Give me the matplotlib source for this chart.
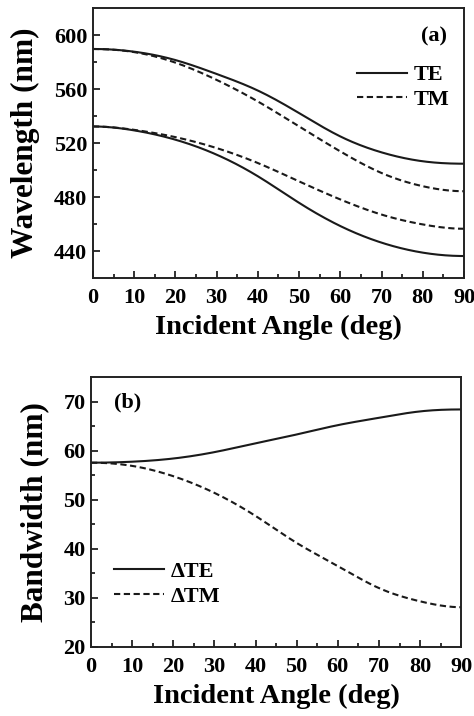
import matplotlib
matplotlib.use("Agg")
import matplotlib.pyplot as plt
import numpy as np

plt.rcParams['font.family'] = ['Liberation Serif', 'DejaVu Serif']
plt.rcParams['font.weight'] = 'bold'

angle = [0, 10, 20, 30, 40, 50, 60, 70, 80, 90]
te_upper = [589.7, 587.7, 581.5, 571.2, 558.9, 542.2, 524.9, 513.1, 506.5, 504.7]
tm_upper = [589.7, 587.4, 579.6, 566.8, 550.8, 532.3, 513.8, 497.8, 488.0, 484.3]
tm_lower = [532.3, 529.8, 524.4, 516.3, 505.2, 491.6, 478.2, 467.0, 459.7, 456.5]
te_lower = [532.3, 529.4, 522.5, 511.4, 495.4, 475.7, 458.5, 446.2, 438.8, 436.3]

d_te = [57.55, 57.75, 58.4, 59.7, 61.5, 63.3, 65.2, 66.7, 68.0, 68.4]
d_tm = [57.55, 56.9, 54.8, 51.4, 46.7, 41.2, 36.5, 32.0, 29.3, 28.1]

xticks = [0, 10, 20, 30, 40, 50, 60, 70, 80, 90]
yticks_a = [440, 480, 520, 560, 600]
yticks_b = [20, 30, 40, 50, 60, 70]


def smooth(x, y):
    """Clamped cubic spline (zero slope at both ends) through the read points."""
    x = np.asarray(x, float)
    y = np.asarray(y, float)
    n = len(x)
    h = np.diff(x)
    A = np.zeros((n, n))
    b = np.zeros(n)
    A[0, 0] = 2 * h[0]
    A[0, 1] = h[0]
    b[0] = 3 * ((y[1] - y[0]) / h[0] - 0.0)
    A[-1, -2] = h[-1]
    A[-1, -1] = 2 * h[-1]
    b[-1] = 3 * (0.0 - (y[-1] - y[-2]) / h[-1])
    for i in range(1, n - 1):
        A[i, i - 1] = h[i - 1]
        A[i, i] = 2 * (h[i - 1] + h[i])
        A[i, i + 1] = h[i]
        b[i] = 3 * ((y[i + 1] - y[i]) / h[i] - (y[i] - y[i - 1]) / h[i - 1])
    c = np.linalg.solve(A, b)
    bb = (y[1:] - y[:-1]) / h - h * (2 * c[:-1] + c[1:]) / 3
    dd = (c[1:] - c[:-1]) / (3 * h)
    xs = np.linspace(x[0], x[-1], 300)
    idx = np.clip(np.searchsorted(x, xs) - 1, 0, n - 2)
    t = xs - x[idx]
    ys = y[idx] + bb[idx] * t + c[idx] * t**2 + dd[idx] * t**3
    return xs, ys


fig = plt.figure(figsize=(4.74, 7.16), dpi=100)
ax1 = fig.add_axes([0.196, 0.6117, 0.783, 0.377])
ax2 = fig.add_axes([0.192, 0.0964, 0.781, 0.377])

lw = 1.5
col = '#1a1a1a'
dash = (0, (3.0, 1.7))
tick_fs = 16
xlab_fs = 20.5
ylab_fs = 22.5
leg_fs = 16

for ax in (ax1, ax2):
    for s in ax.spines.values():
        s.set_linewidth(1.4)
        s.set_color('#222222')
    ax.tick_params(which='both', direction='in', top=False, right=False,
                   labelsize=tick_fs, width=1.3, color='#222222')
    ax.tick_params(which='major', length=5)
    ax.tick_params(which='minor', length=3)
    ax.tick_params(axis='x', pad=7)
    ax.tick_params(axis='y', pad=4)
    ax.set_xlim(0, 90)
    ax.set_xticks(xticks)
    ax.set_xticks(np.arange(5, 90, 10), minor=True)
    ax.set_xlabel('Incident Angle (deg)', fontsize=xlab_fs, fontweight='bold', labelpad=5)

# Panel (a)
ax1.plot(*smooth(angle, te_upper), color=col, lw=lw, label='TE')
ax1.plot(*smooth(angle, tm_upper), color=col, lw=lw, linestyle=dash, label='TM')
ax1.plot(*smooth(angle, tm_lower), color=col, lw=lw, linestyle=dash)
ax1.plot(*smooth(angle, te_lower), color=col, lw=lw)
ax1.set_ylim(420, 620)
ax1.set_yticks(yticks_a)
ax1.set_yticks([460, 500, 540, 580], minor=True)
ax1.set_ylabel('Wavelength (nm)', fontsize=ylab_fs, fontweight='bold', labelpad=10)
ax1.text(0.92, 0.896, '(a)', transform=ax1.transAxes, fontsize=16,
         fontweight='bold', ha='center', va='center')
ax1.legend(loc='center left', bbox_to_anchor=(0.712, 0.707), frameon=False,
           handlelength=2.25, handletextpad=0.3, labelspacing=0.17,
           borderpad=0, borderaxespad=0, prop={'weight': 'bold', 'size': leg_fs})

# Panel (b)
ax2.plot(*smooth(angle, d_te), color=col, lw=lw, label='ΔTE')
ax2.plot(*smooth(angle, d_tm), color=col, lw=lw, linestyle=dash, label='ΔTM')
ax2.set_ylim(20, 75)
ax2.set_yticks(yticks_b)
ax2.set_yticks([25, 35, 45, 55, 65], minor=True)
ax2.set_ylabel('Bandwidth (nm)', fontsize=ylab_fs, fontweight='bold', labelpad=10)
ax2.text(0.1, 0.904, '(b)', transform=ax2.transAxes, fontsize=16,
         fontweight='bold', ha='center', va='center')
ax2.legend(loc='center left', bbox_to_anchor=(0.062, 0.233), frameon=False,
           handlelength=2.25, handletextpad=0.3, labelspacing=0.17,
           borderpad=0, borderaxespad=0, prop={'weight': 'bold', 'size': leg_fs})

fig.savefig('out.png', dpi=100)
